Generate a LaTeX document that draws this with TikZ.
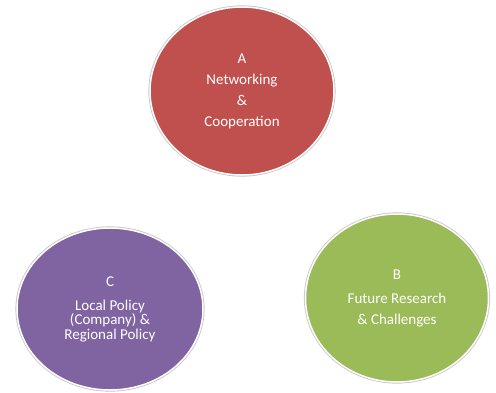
\documentclass[tikz,border=0pt]{standalone}
\usepackage{fontspec}
\setmainfont{Carlito}
\usepackage{tikz}
\usetikzlibrary{shapes.geometric}

\definecolor{topicred}{HTML}{C0504D}
\definecolor{topicgreen}{HTML}{9BBB59}
\definecolor{topicpurple}{HTML}{8064A2}

\begin{document}
\begin{tikzpicture}[x=1pt,y=-1pt,main node/.style={ellipse,minimum width=184pt,minimum height=168pt,inner sep=0pt,draw=white,line width=1.5pt,preaction={draw=black!22,line width=3.2pt},text=white,align=center,font=\fontsize{15}{21}\selectfont}]
	\useasboundingbox (0,0) rectangle (496,392);
	\node[main node,fill=topicred] (a) at (242,91) {A\\Networking\\\&\\Cooperation};
	\node[main node,fill=topicgreen,minimum width=183pt] (b) at (397,298) {B\\[3pt]Future Research\\\& Challenges};
	\node[main node,fill=topicpurple,minimum width=186pt,minimum height=162pt,font=\fontsize{15}{14.5}\selectfont] (c) at (110,309) {C\\[9.5pt]Local Policy\\(Company) \&\\Regional Policy};
\end{tikzpicture}
\end{document}
